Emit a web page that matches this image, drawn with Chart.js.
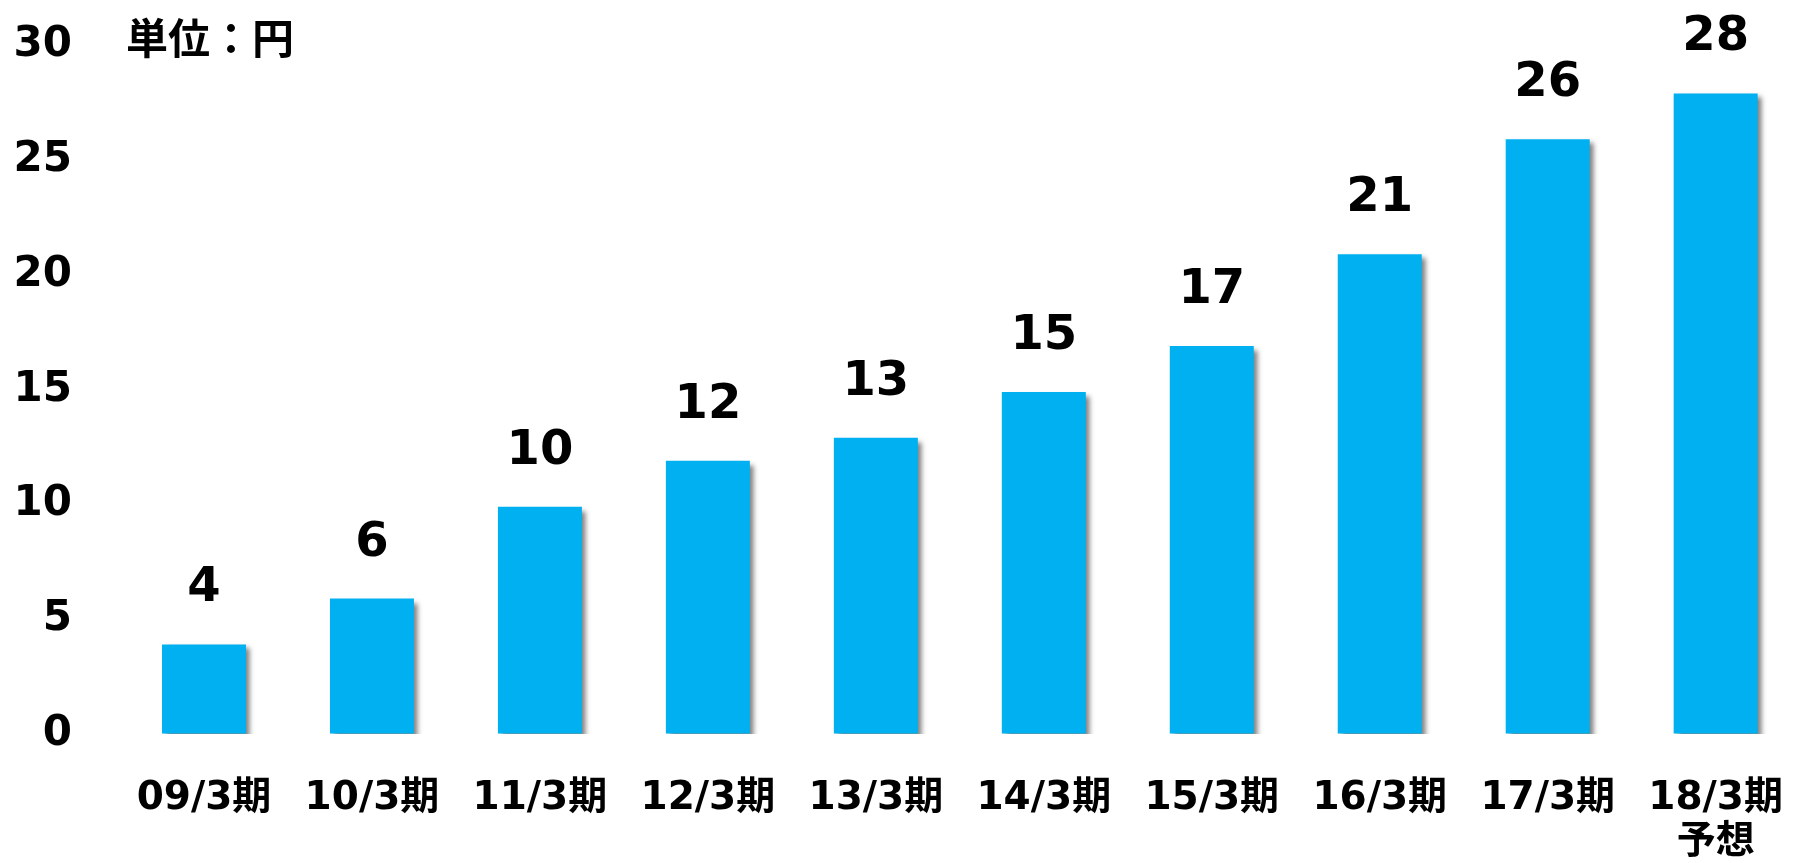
<!DOCTYPE html>
<html lang="ja">
<head>
<meta charset="utf-8">
<title>配当推移</title>
<script src="https://cdn.jsdelivr.net/npm/chart.js@4/dist/chart.umd.min.js"></script>
<style>
  html, body { margin: 0; padding: 0; background: #fff; overflow: hidden; }
  #wrap { width: 1826px; height: 863px; position: relative; }
</style>
</head>
<body>
<div id="wrap"><canvas id="chart"></canvas></div>
<script>
const categories = ['09/3期', '10/3期', '11/3期', '12/3期', '13/3期', '14/3期', '15/3期', '16/3期', '17/3期', ['18/3期', '予想']];
const dividends = [3.9, 5.9, 9.9, 11.9, 12.9, 14.9, 16.9, 20.9, 25.9, 27.9];
const valueLabels = ['4', '6', '10', '12', '13', '15', '17', '21', '26', '28'];
const yMin = 0;
const yMax = 30;
const yStep = 5;
const unitText = '単位：円';

const FONT = '"DejaVu Sans", "Noto Sans CJK JP", sans-serif';
const BLUE = '#00B0F0';

// soft grey shadow on the right of each bar
const barShadow = {
  id: 'barShadow',
  beforeDatasetsDraw(chart) {
    const ctx = chart.ctx;
    ctx.save();
    ctx.shadowColor = 'rgba(0,0,0,0.5)';
    ctx.shadowOffsetX = 4;
    ctx.shadowOffsetY = 4;
    ctx.shadowBlur = 5;
  },
  afterDatasetsDraw(chart) {
    chart.ctx.restore();
  },
};

const overlayText = {
  id: 'overlayText',
  afterDraw(chart) {
    const ctx = chart.ctx;
    const meta = chart.getDatasetMeta(0);
    ctx.save();
    ctx.fillStyle = '#000';
    ctx.textAlign = 'center';
    ctx.textBaseline = 'alphabetic';
    ctx.font = 'bold 48px ' + FONT;
    meta.data.forEach((bar, i) => {
      ctx.fillText(valueLabels[i], bar.x, bar.y - 43);
    });
    ctx.textAlign = 'left';
    ctx.textBaseline = 'middle';
    ctx.font = 'bold 42px "Noto Sans CJK JP", sans-serif';
    ctx.fillText(unitText, 126, 38);
    ctx.restore();
  },
};

new Chart(document.getElementById('chart'), {
  type: 'bar',
  data: {
    labels: categories,
    datasets: [{
      data: dividends,
      backgroundColor: BLUE,
      borderWidth: 0,
      barPercentage: 1,
      categoryPercentage: 0.5,
    }],
  },
  options: {
    responsive: true,
    maintainAspectRatio: false,
    animation: false,
    layout: { padding: { top: 0, right: 0, bottom: 0, left: 0 } },
    plugins: {
      legend: { display: false },
      tooltip: { enabled: false },
    },
    scales: {
      x: {
        grid: { display: false, drawTicks: false },
        border: { display: false },
        ticks: {
          color: '#000',
          padding: 43,
          maxRotation: 0,
          autoSkip: false,
          font: { family: FONT, size: 39, weight: 'bold', lineHeight: '44px' },
        },
        afterFit(scale) { scale.height = 129; },
      },
      y: {
        min: yMin,
        max: yMax,
        // invisible tick marks keep the labels away from the bars
        grid: { display: true, drawOnChartArea: false, drawTicks: true, tickLength: 28, color: 'rgba(0,0,0,0)' },
        border: { display: false },
        ticks: {
          stepSize: yStep,
          color: '#000',
          padding: 20,
          font: { family: FONT, size: 42, weight: 'bold' },
        },
        afterFit(scale) { scale.width = 120; },
      },
    },
  },
  plugins: [barShadow, overlayText],
});
</script>
</body>
</html>
